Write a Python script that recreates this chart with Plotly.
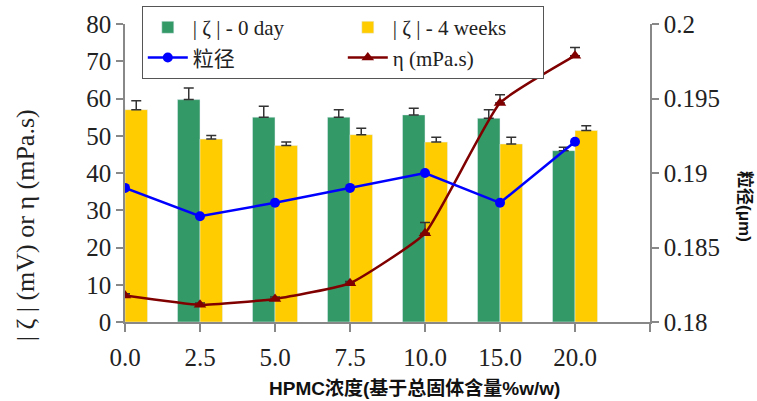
import plotly.graph_objects as go

categories = ["0.0", "2.5", "5.0", "7.5", "10.0", "15.0", "20.0"]
zeta_0day = [58.0, 59.7, 55.0, 55.0, 55.6, 54.7, 46.0]
zeta_0day_err = [2.0, 3.1, 2.9, 2.0, 1.8, 2.3, 0.9]
zeta_4wk = [57.0, 49.1, 47.4, 50.3, 48.3, 47.8, 51.4]
zeta_4wk_err = [2.4, 1.0, 0.9, 1.7, 1.3, 1.8, 1.3]
particle_size = [0.189, 0.1871, 0.188, 0.189, 0.190, 0.188, 0.1921]
viscosity = [7.1, 4.6, 6.2, 10.4, 23.8, 58.8, 71.5]
viscosity_err = [0.5, 0.5, 0.5, 0.5, 2.9, 2.2, 2.2]

x_idx = list(range(len(categories)))
serif = "Liberation Serif, Times New Roman, Noto Sans CJK SC"
err_color = "#333333"

fig = go.Figure()
fig.add_trace(go.Bar(
    x=x_idx, y=zeta_0day, name="| ζ | - 0 day", marker_color="#339966",
    error_y=dict(type="data", array=zeta_0day_err, arrayminus=[0]*7,
                 color=err_color, thickness=1.5, width=5),
))
fig.add_trace(go.Bar(
    x=x_idx, y=zeta_4wk, name="| ζ | - 4 weeks", marker_color="#FFCC00",
    error_y=dict(type="data", array=zeta_4wk_err, arrayminus=[0]*7,
                 color=err_color, thickness=1.5, width=5),
))
fig.add_trace(go.Scatter(
    x=x_idx, y=particle_size, name="粒径", yaxis="y2", mode="lines+markers",
    line=dict(color="#0000FF", width=2.5),
    marker=dict(symbol="circle", size=10, color="#0000FF"),
))
fig.add_trace(go.Scatter(
    x=x_idx, y=viscosity, name="η (mPa.s)", mode="lines+markers",
    line=dict(color="#800000", width=2.5, shape="spline", smoothing=0.4),
    marker=dict(symbol="triangle-up", size=11, color="#800000"),
    error_y=dict(type="data", array=viscosity_err, arrayminus=[0]*7,
                 color=err_color, thickness=1.5, width=5),
))

tick_font = dict(family=serif, size=25, color="#222222")

fig.update_layout(
    width=757, height=401,
    margin=dict(l=125, r=107, t=24, b=79, autoexpand=False),
    paper_bgcolor="white", plot_bgcolor="white",
    barmode="group", bargap=0.4, bargroupgap=0,
    showlegend=True,
    legend=dict(
        orientation="h", x=0.032, y=1.06, xanchor="left", yanchor="top",
        bgcolor="white", bordercolor="#555555", borderwidth=1,
        font=dict(family=serif, size=21, color="#222222"),
        entrywidth=145, entrywidthmode="pixels", traceorder="normal",
        itemwidth=40,
    ),
    xaxis=dict(
        range=[0, 7], tickmode="array", tickvals=list(range(8)),
        ticktext=categories + [""],
        showline=True, linecolor="#888888", linewidth=1.5,
        ticks="outside", ticklen=8, tickcolor="#888888", tickwidth=1.5,
        showgrid=False, zeroline=False, ticklabelstandoff=4,
        tickfont=tick_font,
    ),
    yaxis=dict(
        range=[0, 80], dtick=10,
        showline=True, linecolor="#888888", linewidth=1.5,
        ticks="outside", ticklen=7, tickcolor="#888888", tickwidth=1.5,
        showgrid=False, zeroline=False,
        tickfont=tick_font,
    ),
    yaxis2=dict(
        range=[0.18, 0.2], dtick=0.005, overlaying="y", side="right",
        showline=True, linecolor="#888888", linewidth=1.5,
        ticks="outside", ticklen=7, tickcolor="#888888", tickwidth=1.5,
        showgrid=False, zeroline=False,
        tickfont=tick_font,
    ),
    annotations=[
        dict(text="| ζ | (mV) or η (mPa.s)", xref="paper", yref="paper",
             x=-0.19, y=0.3255, textangle=-90, showarrow=False,
             xanchor="center", yanchor="middle",
             font=dict(family=serif, size=26, color="#222222")),
        dict(text="<b>HPMC浓度(基于总固体含量%w/w)</b>", xref="paper", yref="paper",
             x=0.5505, y=-0.2215, showarrow=False, xanchor="center", yanchor="middle",
             font=dict(family="Liberation Sans, Arial, Noto Sans CJK SC", size=19, color="#111111")),
        dict(text="<b>粒径(μm)</b>", xref="paper", yref="paper",
             x=1.181, y=0.389, textangle=90, showarrow=False,
             xanchor="center", yanchor="middle",
             font=dict(family="Liberation Sans, Arial, Noto Sans CJK SC", size=17, color="#111111")),
    ],
)

fig.write_html("out.html", config={"displayModeBar": False},
               post_script="document.body.style.margin='0px';")
